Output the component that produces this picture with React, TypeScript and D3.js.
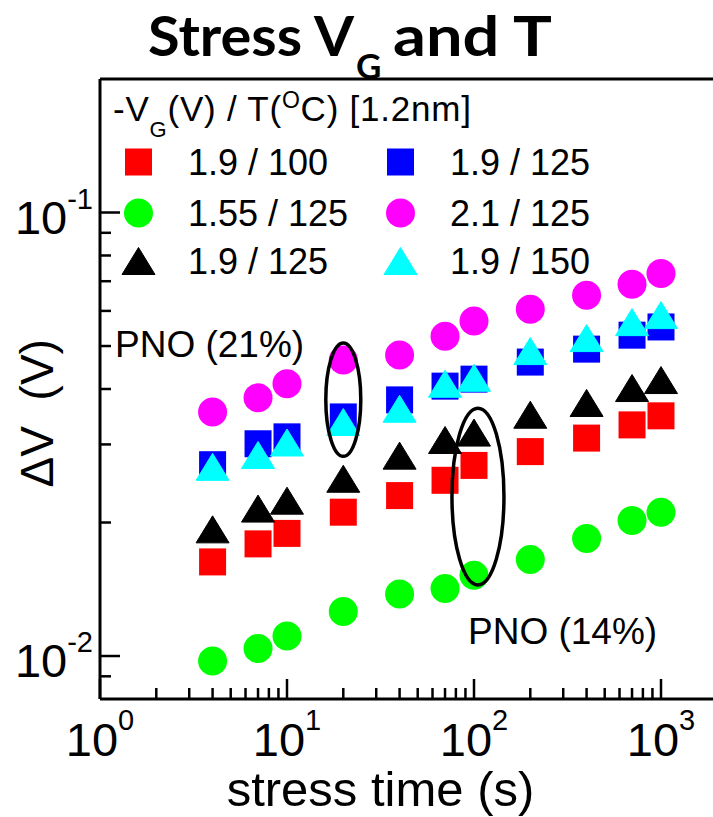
import React from "react";
import * as d3 from "d3";

// Stress times (s) shared by every series
const stressTimes = [4, 7, 10, 20, 40, 70, 100, 200, 400, 700, 1000];

// Threshold-voltage shift ΔV (V) per stress condition  -VG(V) / T(°C)
const dvVg19T100 = [0.0163, 0.0179, 0.0189, 0.0211, 0.023, 0.0249, 0.0269, 0.0289, 0.031, 0.0332, 0.0348];
const dvVg19T125Sq = [0.027, 0.0301, 0.0312, 0.0346, 0.0378, 0.0406, 0.0421, 0.046, 0.0492, 0.0529, 0.0552];
const dvVg155T125 = [0.00975, 0.0104, 0.0111, 0.0126, 0.0138, 0.0142, 0.0152, 0.0165, 0.0184, 0.0202, 0.0211];
const dvVg21T125 = [0.0355, 0.0382, 0.0411, 0.0465, 0.0477, 0.0526, 0.0569, 0.0605, 0.0651, 0.0689, 0.0729];
const dvVg19T125Tri = [0.0193, 0.0215, 0.0224, 0.0251, 0.0283, 0.0307, 0.0319, 0.035, 0.0372, 0.0402, 0.0419];
const dvVg19T150 = [0.0267, 0.0284, 0.0303, 0.0337, 0.0361, 0.0411, 0.0424, 0.0487, 0.0521, 0.0566, 0.0587];

const seriesLabels = ["1.9 / 100", "1.9 / 125", "1.55 / 125", "2.1 / 125", "1.9 / 125", "1.9 / 150"];

// Axis ticks
const xMajorTicks = [1, 10, 100, 1000];
const xMinorTicks = [2, 3, 4, 5, 6, 7, 8, 9, 20, 30, 40, 50, 60, 70, 80, 90, 200, 300, 400, 500, 600, 700, 800, 900];
const xTickExponents = ["0", "1", "2", "3"];
const yMajorTicks = [0.01, 0.1];
const yMinorTicks = [0.009, 0.02, 0.03, 0.04, 0.05, 0.06, 0.07, 0.08, 0.09];
const yTickExponents = ["-2", "-1"];

// Annotated groups: stress time and ΔV span enclosed by each ellipse
const ellipseTimes = [20, 105];
const ellipseTop = [0.0508, 0.0362];
const ellipseBottom = [0.0282, 0.01446];

type Shape = "square" | "circle" | "triangle";

const series: { values: number[]; color: string; shape: Shape }[] = [
  { values: dvVg19T100, color: "#ff0000", shape: "square" },
  { values: dvVg19T125Sq, color: "#0000ff", shape: "square" },
  { values: dvVg155T125, color: "#00ff00", shape: "circle" },
  { values: dvVg21T125, color: "#ff00ff", shape: "circle" },
  { values: dvVg19T125Tri, color: "#000000", shape: "triangle" },
  { values: dvVg19T150, color: "#00ffff", shape: "triangle" },
];

const W = 713;
const H = 817;
const SANS = "'Liberation Sans', Arial, sans-serif";

const x = d3.scaleLog().domain([1, 2000]).range([100, 100 + 187 * Math.log10(2000)]);
const y = d3.scaleLog().domain([0.008, 0.2]).range([699, 79]);

function Marker({ shape, cx, cy, color }: { shape: Shape; cx: number; cy: number; color: string }) {
  if (shape === "square") {
    return <rect x={cx - 13.5} y={cy - 13.5} width={27} height={27} fill={color} />;
  }
  if (shape === "circle") {
    return <circle cx={cx} cy={cy} r={14.5} fill={color} />;
  }
  const p = d3.path();
  p.moveTo(cx, cy - 13.5);
  p.lineTo(cx + 16.5, cy + 13.5);
  p.lineTo(cx - 16.5, cy + 13.5);
  p.closePath();
  return <path d={p.toString()} fill={color} stroke={color} strokeWidth={1} strokeLinejoin="round" />;
}

export default function App() {
  const [x0, x1] = x.range();
  const [yb, yt] = y.range();

  const legendRows = [162, 213, 261];
  const legendCols = [138.5, 400.5];
  const legendTextX = [188, 450];
  // legend layout: column 0 = red, green, black; column 1 = blue, magenta, cyan
  const legendOrder = [
    [0, 0, 0],
    [1, 1, 0],
    [2, 0, 1],
    [3, 1, 1],
    [4, 0, 2],
    [5, 1, 2],
  ];

  return (
    <svg
      width={W}
      height={H}
      viewBox={`0 0 ${W} ${H}`}
      style={{ position: "absolute", left: 0, top: 0, display: "block", background: "#fff" }}
    >
      <rect x={0} y={0} width={W} height={H} fill="#fff" />

      {/* Title */}
      <g fontFamily="Lato, 'Open Sans', sans-serif" fontWeight={700} fill="#000">
        <text x={148} y={56} fontSize={56} textLength={206} lengthAdjust="spacingAndGlyphs">
          Stress V
        </text>
        <text x={356} y={79} fontSize={35}>
          G
        </text>
        <text x={393} y={56} fontSize={56} textLength={159} lengthAdjust="spacingAndGlyphs">
          and T
        </text>
      </g>

      {/* Frame */}
      <g stroke="#000" strokeWidth={3} fill="none">
        <line x1={x0} x2={x1} y1={yb} y2={yb} />
        <line x1={x0} x2={x1} y1={yt} y2={yt} />
        <line x1={x0} x2={x0} y1={yt} y2={yb} />
        <line x1={x1} x2={x1} y1={yt} y2={yb} />
      </g>

      {/* Ticks */}
      <g stroke="#000" strokeWidth={2.5}>
        {xMajorTicks.map((t) => (
          <line key={`xM${t}`} x1={x(t)} x2={x(t)} y1={yb} y2={yb - 20} />
        ))}
        {xMinorTicks.map((t) => (
          <line key={`xm${t}`} x1={x(t)} x2={x(t)} y1={yb} y2={yb - 11} />
        ))}
        {yMajorTicks.map((t) => (
          <line key={`yM${t}`} x1={x0} x2={x0 + 20} y1={y(t)} y2={y(t)} />
        ))}
        {yMinorTicks.map((t) => (
          <line key={`ym${t}`} x1={x0} x2={x0 + 11} y1={y(t)} y2={y(t)} />
        ))}
      </g>

      {/* Tick labels */}
      <g fontFamily={SANS} fill="#000">
        {xMajorTicks.map((t, i) => (
          <text key={`xl${t}`} x={x(t)} y={756} fontSize={47} textAnchor="middle">
            10
            <tspan fontSize={29} dy={-26}>
              {xTickExponents[i]}
            </tspan>
          </text>
        ))}
        {yMajorTicks.map((t, i) => (
          <text key={`yl${t}`} x={93} y={y(t) + 21} fontSize={47} textAnchor="end">
            10
            <tspan fontSize={29} dy={-25}>
              {yTickExponents[i]}
            </tspan>
          </text>
        ))}
      </g>

      {/* Axis titles */}
      <text
        x={(x(1) + x(1000)) / 2}
        y={806}
        fontFamily={SANS}
        fontSize={49}
        textAnchor="middle"
        fill="#000"
      >
        stress time (s)
      </text>
      <text
        transform={`translate(53, ${(y(0.01) + y(0.1)) / 2 - 21}) rotate(-90)`}
        fontFamily={SANS}
        fontSize={46}
        textAnchor="middle"
        fill="#000"
        style={{ whiteSpace: "pre" }}
      >
        {"ΔV  (V)"}
      </text>

      {/* Data markers */}
      {series.map((s, si) => (
        <g key={`s${si}`}>
          {s.values.map((v, i) => (
            <Marker key={i} shape={s.shape} cx={x(stressTimes[i])} cy={y(v)} color={s.color} />
          ))}
        </g>
      ))}

      {/* Ellipse annotations */}
      {ellipseTimes.map((t, i) => {
        const top = y(ellipseTop[i]);
        const bottom = y(ellipseBottom[i]);
        return (
          <ellipse
            key={`e${i}`}
            cx={x(t)}
            cy={(top + bottom) / 2}
            rx={i === 0 ? 17.5 : 26}
            ry={(bottom - top) / 2}
            fill="none"
            stroke="#000"
            strokeWidth={3.5}
          />
        );
      })}

      <g fontFamily={SANS} fontSize={37} fill="#000">
        <text x={115} y={357}>PNO (21%)</text>
        <text x={468} y={644}>PNO (14%)</text>
      </g>

      {/* Legend */}
      <text
        x={113}
        y={121}
        fontFamily={SANS}
        fontSize={35}
        fill="#000"
        textLength={358}
        lengthAdjust="spacing"
      >
        -V
        <tspan fontSize={22} dy={16}>G</tspan>
        <tspan dy={-16}>(V) / T(</tspan>
        <tspan fontSize={23} dy={-13}>O</tspan>
        <tspan dy={13}>C) [1.2nm]</tspan>
      </text>
      {legendOrder.map(([si, col, row]) => (
        <g key={`lg${si}`}>
          <Marker
            shape={series[si].shape}
            cx={legendCols[col]}
            cy={legendRows[row]}
            color={series[si].color}
          />
          <text
            x={legendTextX[col]}
            y={legendRows[row] + 13}
            fontFamily={SANS}
            fontSize={36}
            fill="#000"
          >
            {seriesLabels[si]}
          </text>
        </g>
      ))}
    </svg>
  );
}
